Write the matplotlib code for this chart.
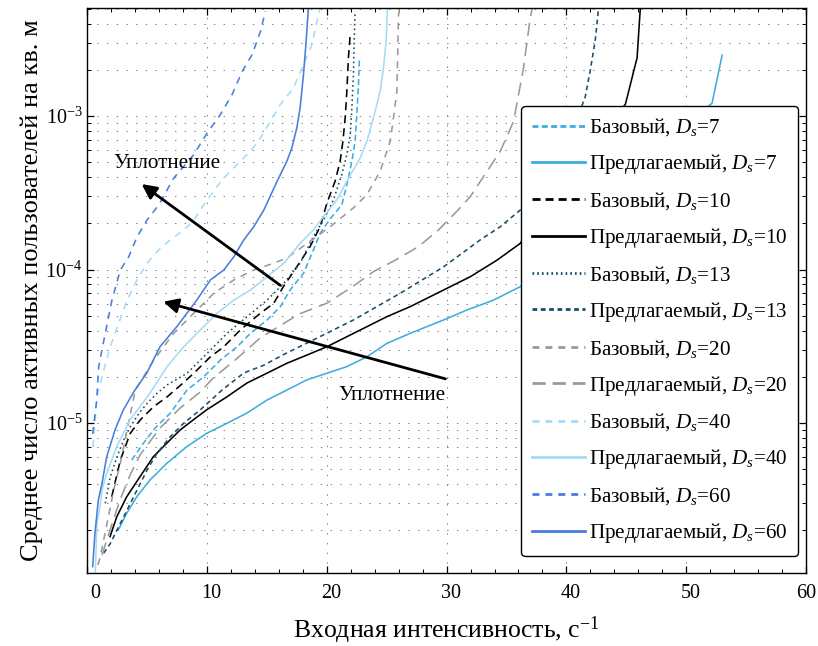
import matplotlib
matplotlib.use("Agg")
import matplotlib.pyplot as plt
import matplotlib.ticker as mticker
import matplotlib.transforms as mtrans

plt.rcParams['font.family'] = ['Liberation Serif', 'DejaVu Serif']
plt.rcParams['mathtext.fontset'] = 'custom'
plt.rcParams['mathtext.rm'] = 'Liberation Serif'
plt.rcParams['mathtext.it'] = 'Liberation Serif:italic'
plt.rcParams['mathtext.bf'] = 'Liberation Serif:bold'
plt.rcParams['lines.scale_dashes'] = False
plt.rcParams['axes.unicode_minus'] = False

# ---------------- data ----------------
d7_base_x = [3.71, 4.68, 5.66, 6.93, 8.33, 9.72, 11.11, 12.51, 13.62, 15.01, 16.12, 16.93, 18.05, 18.88, 19.44, 20.3, 21.25, 21.67, 22.09, 22.36, 22.50, 22.64, 22.72]
d7_base_y = [5.74e-6, 7.38e-6, 9.27e-6, 1.16e-5, 1.64e-5, 2.00e-5, 2.57e-5, 3.14e-5, 3.84e-5, 4.69e-5, 5.73e-5, 7.35e-5, 9.44e-5, 1.34e-4, 1.72e-4, 2.15e-4, 2.64e-4, 3.56e-4, 5.07e-4, 6.84e-4, 1.02e-3, 1.60e-3, 2.39e-3]

d7_prop_x = [2.59, 3.29, 4.13, 5.24, 6.63, 8.30, 9.97, 11.65, 13.32, 14.99, 16.66, 18.33, 20.00, 21.67, 23.34, 25.01, 26.96, 29.74, 31.70, 33.92, 36.15, 44.5, 52.16, 53.0]
d7_prop_y = [2.01e-6, 2.58e-6, 3.31e-6, 4.26e-6, 5.46e-6, 7.01e-6, 8.57e-6, 9.95e-6, 1.16e-5, 1.41e-5, 1.64e-5, 1.91e-5, 2.11e-5, 2.33e-5, 2.70e-5, 3.30e-5, 3.84e-5, 4.69e-5, 5.45e-5, 6.32e-5, 7.73e-5, 3.83e-4, 1.21e-3, 2.49e-3]

d10_base_x = [2.04, 2.76, 3.59, 4.43, 5.55, 6.66, 7.74, 8.89, 10.28, 11.40, 12.78, 14.45, 15.57, 16.37, 17.49, 18.60, 19.44, 20.00, 20.69, 21.11, 21.34, 21.53, 21.67, 21.80, 21.95]
d10_base_y = [3.31e-6, 5.74e-6, 8.57e-6, 1.05e-5, 1.28e-5, 1.48e-5, 1.75e-5, 2.11e-5, 2.70e-5, 3.14e-5, 4.04e-5, 5.19e-5, 6.03e-5, 7.73e-5, 1.04e-4, 1.41e-4, 1.90e-4, 2.70e-4, 3.76e-4, 5.07e-4, 6.84e-4, 9.70e-4, 1.45e-3, 2.39e-3, 3.39e-3]

d10_prop_x = [1.90, 2.46, 3.29, 4.40, 5.51, 6.63, 7.74, 8.86, 9.97, 11.65, 13.32, 14.99, 16.66, 18.33, 20.00, 21.67, 23.34, 25.01, 26.96, 29.74, 31.97, 34.20, 36.15, 39.49, 44.92, 45.20, 45.61, 45.90, 46.17]
d10_prop_y = [1.82e-6, 2.45e-6, 3.31e-6, 4.47e-6, 6.03e-6, 7.38e-6, 9.00e-6, 1.05e-5, 1.22e-5, 1.48e-5, 1.82e-5, 2.11e-5, 2.45e-5, 2.77e-5, 3.14e-5, 3.65e-5, 4.24e-5, 4.93e-5, 5.73e-5, 7.35e-5, 8.97e-5, 1.15e-4, 1.48e-4, 3.83e-4, 1.19e-3, 1.45e-3, 1.95e-3, 2.39e-3, 5.06e-3]

d13_base_x = [1.50, 1.92, 2.48, 3.04, 3.59, 4.32, 4.99, 5.82, 6.66, 8.33, 10.00, 11.67, 13.34, 15.01, 16.41, 17.77, 18.88, 19.72, 20.55, 21.25, 21.67, 21.95, 22.09, 22.22, 22.28, 22.36]
d13_base_y = [3.00e-6, 4.47e-6, 6.03e-6, 7.74e-6, 9.46e-6, 1.16e-5, 1.34e-5, 1.56e-5, 1.77e-5, 2.11e-5, 2.84e-5, 3.84e-5, 4.93e-5, 6.32e-5, 8.13e-5, 1.10e-4, 1.64e-4, 2.10e-4, 2.84e-4, 4.15e-4, 5.60e-4, 7.55e-4, 1.13e-3, 1.86e-3, 3.07e-3, 4.81e-3]

d13_prop_x = [1.37, 1.92, 2.48, 3.32, 4.15, 4.99, 5.82, 6.93, 8.05, 9.44, 11.25, 13.07, 14.74, 16.41, 18.88, 22.22, 26.12, 29.74, 32.81, 34.48, 36.15, 38.65, 41.16, 41.58, 42.00, 42.41, 42.69]
d13_prop_y = [1.42e-6, 1.64e-6, 2.01e-6, 2.71e-6, 3.66e-6, 4.94e-6, 6.35e-6, 8.15e-6, 9.97e-6, 1.22e-5, 1.64e-5, 2.12e-5, 2.38e-5, 2.80e-5, 3.48e-5, 4.69e-5, 7.00e-5, 1.04e-4, 1.56e-4, 1.90e-4, 2.44e-4, 4.80e-4, 1.09e-3, 1.34e-3, 2.00e-3, 3.13e-3, 5.06e-3]

d20_base_x = [0.89, 1.09, 1.65, 2.21, 2.76, 3.32, 4.01, 5.55, 7.22, 8.89, 10.56, 12.23, 13.90, 15.57, 16.68, 20.28, 22.22, 23.34, 24.45, 25.29, 25.56, 25.85, 25.98, 26.10]
d20_base_y = [1.19e-6, 1.35e-6, 2.22e-6, 3.66e-6, 5.46e-6, 8.99e-6, 1.64e-5, 2.57e-5, 3.84e-5, 5.19e-5, 7.00e-5, 8.55e-5, 9.93e-5, 1.10e-4, 1.19e-4, 1.90e-4, 2.52e-4, 3.07e-4, 4.36e-4, 6.84e-4, 9.70e-4, 1.45e-3, 4.57e-3, 5.06e-3]

d20_prop_x = [1.23, 1.90, 2.73, 3.57, 4.40, 6.07, 7.74, 9.42, 10.50, 12.34, 14.43, 17.69, 20.00, 22.14, 23.89, 25.71, 27.65, 29.32, 30.91, 31.97, 33.37, 34.48, 35.59, 36.42, 36.98, 37.15]
d20_prop_y = [1.38e-6, 2.01e-6, 3.15e-6, 4.58e-6, 6.19e-6, 9.27e-6, 1.25e-5, 1.59e-5, 1.96e-5, 2.57e-5, 3.58e-5, 5.13e-5, 6.03e-5, 7.73e-5, 9.68e-5, 1.15e-4, 1.41e-4, 1.81e-4, 2.42e-4, 2.98e-4, 4.36e-4, 5.89e-4, 9.23e-4, 2.06e-3, 4.35e-3, 5.06e-3]

d40_base_x = [0.48, 0.81, 1.37, 1.92, 2.62, 3.32, 4.15, 4.99, 5.96, 6.93, 8.08, 8.91, 9.72, 10.84, 11.67, 12.78, 13.62, 14.45, 15.29, 16.12, 17.21, 18.05, 18.75, 19.30, 19.44]
d40_base_y = [6.98e-6, 1.48e-5, 2.21e-5, 3.14e-5, 4.46e-5, 6.32e-5, 8.55e-5, 1.10e-4, 1.34e-4, 1.56e-4, 1.81e-4, 2.10e-4, 2.63e-4, 3.48e-4, 4.15e-4, 5.07e-4, 5.89e-4, 7.19e-4, 9.23e-4, 1.19e-3, 1.52e-3, 2.16e-3, 2.91e-3, 4.57e-3, 5.06e-3]

d40_prop_x = [0.67, 0.81, 1.06, 1.23, 1.62, 2.46, 3.57, 5.20, 6.66, 8.05, 9.44, 10.84, 12.23, 13.62, 15.01, 16.41, 17.77, 18.88, 19.72, 20.84, 21.67, 22.78, 23.34, 23.89, 24.45, 24.73, 24.95, 25.06]
d40_prop_y = [1.07e-6, 2.23e-6, 2.85e-6, 3.66e-6, 4.70e-6, 7.01e-6, 1.05e-5, 1.55e-5, 2.33e-5, 3.14e-5, 4.04e-5, 5.19e-5, 6.32e-5, 7.35e-5, 8.97e-5, 1.10e-4, 1.48e-4, 1.81e-4, 2.21e-4, 2.84e-4, 3.76e-4, 5.32e-4, 6.84e-4, 9.70e-4, 1.45e-3, 2.06e-3, 3.07e-3, 5.06e-3]

d60_base_x = [0.45, 0.79, 0.95, 1.50, 2.06, 2.76, 3.46, 4.15, 4.99, 5.96, 7.22, 8.89, 10.00, 11.11, 12.09, 12.93, 13.76, 14.46, 14.87]
d60_base_y = [8.5e-6, 1.41e-5, 2.33e-5, 3.84e-5, 6.32e-5, 9.93e-5, 1.21e-4, 1.63e-4, 2.10e-4, 2.63e-4, 3.94e-4, 5.60e-4, 7.74e-4, 1.02e-3, 1.38e-3, 1.95e-3, 2.51e-3, 3.56e-3, 4.81e-3]

d60_prop_x = [0.45, 0.64, 0.92, 1.23, 1.62, 2.31, 3.01, 3.98, 4.96, 6.07, 7.47, 9.14, 10.28, 11.40, 12.23, 13.07, 13.90, 14.74, 15.85, 16.66, 17.08, 17.49, 17.77, 18.05, 18.27, 18.46]
d60_prop_y = [1.16e-6, 1.91e-6, 3.15e-6, 4.05e-6, 6.03e-6, 8.99e-6, 1.22e-5, 1.64e-5, 2.11e-5, 3.14e-5, 4.24e-5, 6.32e-5, 8.55e-5, 9.93e-5, 1.21e-4, 1.56e-4, 1.90e-4, 2.44e-4, 3.76e-4, 5.07e-4, 6.19e-4, 8.35e-4, 1.13e-3, 1.86e-3, 3.07e-3, 5.06e-3]

labels = ['Базовый, $D_s$=7', 'Предлагаемый, $D_s$=7',
          'Базовый, $D_s$=10', 'Предлагаемый, $D_s$=10',
          'Базовый, $D_s$=13', 'Предлагаемый, $D_s$=13',
          'Базовый, $D_s$=20', 'Предлагаемый, $D_s$=20',
          'Базовый, $D_s$=40', 'Предлагаемый, $D_s$=40',
          'Базовый, $D_s$=60', 'Предлагаемый, $D_s$=60']

x_label = 'Входная интенсивность, с$^{\\mathregular{-1}}$'
y_label = 'Среднее число активных пользователей на кв. м'
annot_text = 'Уплотнение'

# ---------------- styles ----------------
c7 = '#3DAEE0'
c10 = '#000000'
c13 = '#1C4E69'
c20 = '#9A9A9A'
c40 = '#A6DBF7'
c60 = '#4A7EDC'

series = [
    (d7_base_x, d7_base_y, c7, (0, (4.3, 2.4))),
    (d7_prop_x, d7_prop_y, c7, '-'),
    (d10_base_x, d10_base_y, c10, (0, (5.8, 3.6))),
    (d10_prop_x, d10_prop_y, c10, '-'),
    (d13_base_x, d13_base_y, c13, (0, (1.2, 2.2))),
    (d13_prop_x, d13_prop_y, c13, (0, (3.4, 2.6))),
    (d20_base_x, d20_base_y, c20, (0, (5.0, 4.3))),
    (d20_prop_x, d20_prop_y, c20, (0, (9.5, 5.0))),
    (d40_base_x, d40_base_y, c40, (0, (5.0, 4.3))),
    (d40_prop_x, d40_prop_y, c40, '-'),
    (d60_base_x, d60_base_y, c60, (0, (5.0, 4.3))),
    (d60_prop_x, d60_prop_y, c60, '-'),
]

fig = plt.figure(figsize=(8.18, 6.46), dpi=100)
ax = fig.add_axes([0.1067, 0.1135, 0.8786, 0.8737])

for (xs, ys, col, ls), lab in zip(series, labels):
    ax.plot(xs, ys, color=col, linestyle=ls, linewidth=1.15, label=lab)

ax.set_yscale('log')
ax.set_xlim(0, 60)
ax.set_ylim(1.06e-6, 5.03e-3)

ax.xaxis.set_major_locator(mticker.MultipleLocator(10))
ax.xaxis.set_minor_locator(mticker.MultipleLocator(2))
ax.yaxis.set_major_locator(mticker.LogLocator(base=10, numticks=20))
ax.yaxis.set_minor_locator(mticker.LogLocator(base=10, subs=range(2, 10), numticks=20))
ax.yaxis.set_minor_formatter(mticker.NullFormatter())
ax.yaxis.set_major_formatter(mticker.LogFormatterMathtext())

ax.tick_params(which='both', direction='in', top=True, right=True, labelsize=14.5)
ax.tick_params(axis='x', which='major', pad=8)
ax.tick_params(which='major', length=5, width=0.9)
ax.tick_params(which='minor', length=3, width=0.7)
for s in ax.spines.values():
    s.set_linewidth(1.0)

grid_ls = (0, (1, 6))
ax.grid(True, which='major', axis='both', linestyle=grid_ls, linewidth=0.6, color='#666666')
ax.grid(True, which='minor', axis='y', linestyle=grid_ls, linewidth=0.6, color='#666666')
ax.set_axisbelow(True)

# shift x tick labels slightly right (as in reference)
fig.canvas.draw()
for lbl in ax.get_xticklabels():
    txt = lbl.get_text()
    if txt == '0':
        dx = 8
    elif txt == '60':
        dx = 0
    else:
        dx = 4.5
    off = mtrans.ScaledTranslation(dx / 100, 0, fig.dpi_scale_trans)
    lbl.set_transform(lbl.get_transform() + off)

ax.set_xlabel(x_label, fontsize=18.5, labelpad=8.5)
ax.set_ylabel(y_label, fontsize=19, labelpad=2)

arrow_kw = dict(arrowstyle='-|>', color='black', lw=2.0, mutation_scale=22, shrinkA=0, shrinkB=0)
ax.annotate('', xy=(4.54, 3.6e-4), xytext=(16.1, 7.9e-5), arrowprops=arrow_kw)
ax.annotate('', xy=(6.35, 6.17e-5), xytext=(29.9, 1.94e-5), arrowprops=arrow_kw)
ax.text(2.15, 4.87e-4, annot_text, fontsize=15.3, ha='left', va='center')
ax.text(21.0, 1.51e-5, annot_text, fontsize=15.3, ha='left', va='center')

leg = ax.legend(loc='upper left', bbox_to_anchor=(0.604, 0.827), fontsize=15.2,
                handlelength=2.5, handletextpad=0.2, labelspacing=0.66,
                borderpad=0.5, borderaxespad=0, fancybox=True, framealpha=1,
                edgecolor='black')
leg.get_frame().set_linewidth(1.0)
for h in leg.get_lines():
    h.set_linewidth(2.0)

fig.savefig('out.png', dpi=100)
